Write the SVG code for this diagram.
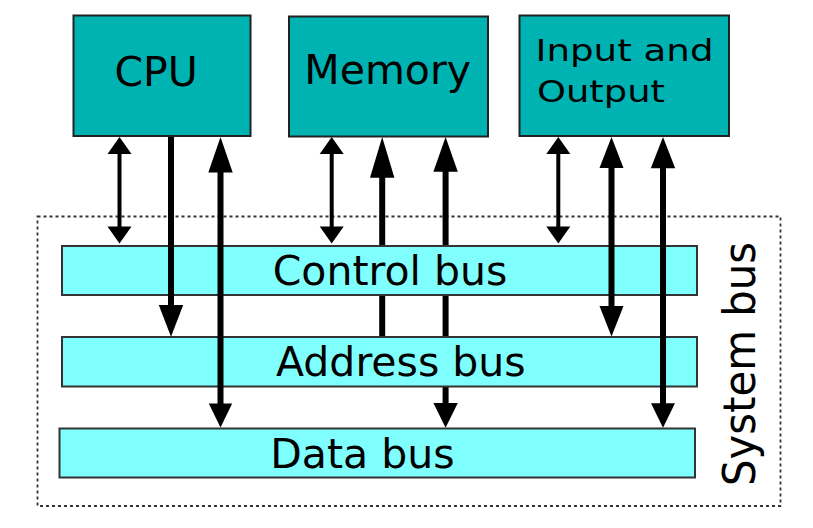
<svg xmlns="http://www.w3.org/2000/svg" width="813" height="528" viewBox="0 0 813 528">
<style>
.box{fill:#00b3b3;stroke:#222;stroke-width:2}
.bus{fill:#80ffff;stroke:#333;stroke-width:2}
.frame{fill:none;stroke:#333;stroke-width:1.8;stroke-dasharray:3,3}
.t{font-family:"DejaVu Sans","Liberation Sans",sans-serif;fill:#000}
.thin{stroke:#000;stroke-width:4;fill:none}
.thick{stroke:#000;stroke-width:6;fill:none}
.head{fill:#000}
</style>
<rect width="813" height="528" fill="#fff"/>
<g id="system-bus">
<rect class="frame" x="37.5" y="216.5" width="743" height="289.5"/>
<text class="t" font-size="44" transform="translate(755,486) rotate(-90)" textLength="244" lengthAdjust="spacingAndGlyphs">System bus</text>
</g>
<g id="connectors-back">
<line class="thin" x1="331.7" y1="150" x2="331.7" y2="230"/>
<polygon class="head" points="331.7,137 343.7,154 319.7,154"/>
<polygon class="head" points="331.7,243.5 343.7,226.5 319.7,226.5"/>
<line class="thick" x1="382.2" y1="170" x2="382.2" y2="337"/>
<polygon class="head" points="382.2,137 394.4,177.7 370,177.7"/>
<line class="thick" x1="445.6" y1="165" x2="445.6" y2="410"/>
<polygon class="head" points="445.6,137 457.8,171.7 433.4,171.7"/>
<polygon class="head" points="445.6,427.7 457.8,403 433.4,403"/>
</g>
<g id="control-bus">
<rect class="bus" x="62" y="246" width="635" height="49"/>
<text class="t" font-size="41" x="272.7" y="285">Control bus</text>
</g>
<g id="address-bus">
<rect class="bus" x="62" y="337" width="635" height="49.5"/>
<text class="t" font-size="41" x="276" y="376">Address bus</text>
</g>
<g id="data-bus">
<rect class="bus" x="59.5" y="428.5" width="635.5" height="49"/>
<text class="t" font-size="41" x="270.3" y="468.3">Data bus</text>
</g>
<g id="connectors">
<line class="thin" x1="119.5" y1="150" x2="119.5" y2="230"/>
<polygon class="head" points="119.5,137 131.5,154 107.5,154"/>
<polygon class="head" points="119.5,243.5 131.5,226.5 107.5,226.5"/>
<line class="thick" x1="171" y1="136" x2="171" y2="310"/>
<polygon class="head" points="171,336.7 183.2,305 158.8,305"/>
<line class="thick" x1="220.5" y1="165" x2="220.5" y2="410"/>
<polygon class="head" points="220.5,137 232.7,172.5 208.3,172.5"/>
<polygon class="head" points="220.5,427.5 232.2,403.5 208.8,403.5"/>
<line class="thin" x1="558.3" y1="150" x2="558.3" y2="230"/>
<polygon class="head" points="558.3,137 570.3,154 546.3,154"/>
<polygon class="head" points="558.3,243.5 570.3,226.5 546.3,226.5"/>
<line class="thick" x1="611.5" y1="160" x2="611.5" y2="312"/>
<polygon class="head" points="611.5,137 623.5,168 599.5,168"/>
<polygon class="head" points="611.5,336.5 623.5,306 599.5,306"/>
<line class="thick" x1="663" y1="160" x2="663" y2="410"/>
<polygon class="head" points="663,137 675.2,168.3 650.8,168.3"/>
<polygon class="head" points="663,427.7 675,403.3 651,403.3"/>
</g>
<g id="cpu">
<rect class="box" x="73.5" y="15.5" width="177" height="120.5"/>
<text class="t" font-size="41" x="114.4" y="86">CPU</text>
</g>
<g id="memory">
<rect class="box" x="289" y="16.5" width="199" height="120"/>
<text class="t" font-size="41" x="304.3" y="83.5">Memory</text>
</g>
<g id="io">
<rect class="box" x="519.5" y="15.5" width="209.5" height="120.5"/>
<text class="t" font-size="31" x="535.5" y="60.7" textLength="178" lengthAdjust="spacingAndGlyphs">Input and</text>
<text class="t" font-size="31" x="537" y="101.5" textLength="128" lengthAdjust="spacingAndGlyphs">Output</text>
</g>
</svg>
